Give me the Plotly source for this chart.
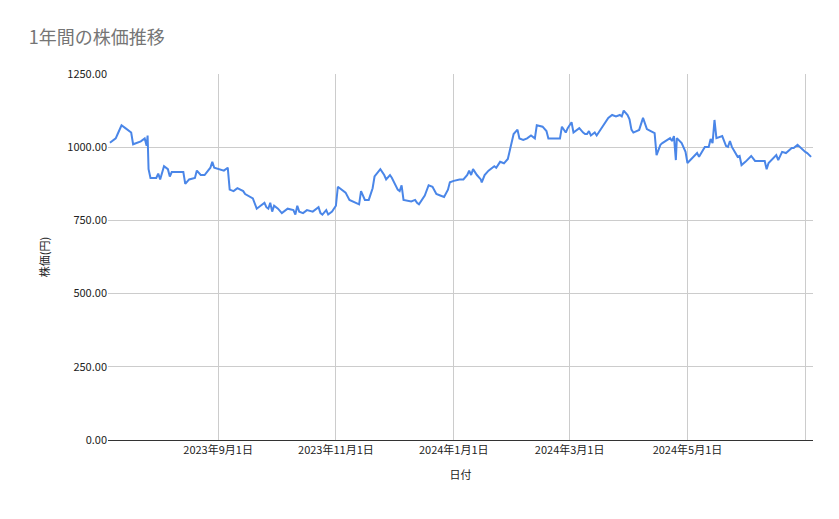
import pandas as pd
import plotly.graph_objects as go

start_date = "2023-07-07"
day_offsets = [0,3,4,6,8,11,12,16,18,19,19.5,20,21,24,25,26,28,30,31,32,35,38,39,41,44,45,47,49,52,53,54,57,59,61,62,64,66,69,70,74,76,78,80,81,82,83,84,85,87,89,92,95,96,97,98,100,102,105,108,109,110,112,113,115,117,118,120,122,124,127,129,130,132,134,136,137,140,142,143,145,146,149,150,151,152,156,158,159,160,163,165,167,169,171,173,175,176,178,181,183,185,186,187,188,190,192,192.5,194,196,199,200,202,204,206,208,209,211,212,214,216,218,220,221,224,226,227,230,233,234,236,237,239,240,243,245,246,247,248,249,251,252,254,256,258,260,262,264,265,266,268,269,270,271,
               274,276,278,280,282,283,285,286,290,291,292,293,293.5,296,298,299,304,305,308,310,311,312,313,314,317,319,320,321,322,325,326,327,329,332,334,339,340,341,345,346,348,350,353,354,356,360,361,363]
prices = [1015,1030,1045,1075,1065,1050,1010,1020,1030,1005,1040,925,895,895,910,890,935,925,900,915,915,915,875,890,895,920,905,905,930,950,930,925,920,930,855,850,860,850,840,825,790,800,810,795,790,810,780,800,790,775,790,785,770,800,780,775,785,780,795,775,770,785,770,780,800,865,855,845,820,810,805,850,820,820,860,900,925,905,890,905,895,855,850,870,820,815,820,810,805,835,870,865,840,835,830,855,880,885,890,890,905,920,905,925,905,890,880,905,920,935,930,950,945,960,1015,1045,1060,1030,1025,1030,1040,1030,1075,1070,1055,1030,1030,1030,1070,1050,1065,1085,1050,1065,1050,1045,1045,1055,1040,1050,1040,1060,1080,1100,1110,1105,1110,1105,1125,1110,1095,1060,1050,
          1059,1100,1062,1055,1048,973,1008,1014,1031,1021,1038,956,1031,1014,984,946,980,967,1001,1001,1028,1014,1093,1031,1038,1004,1001,1021,1001,967,970,939,950,970,953,953,925,946,973,956,984,980,997,997,1008,984,980,967]
tick_dates = ["2023-09-01","2023-11-01","2024-01-01","2024-03-01","2024-05-01","2024-07-01"]
tick_labels = ["2023年9月1日","2023年11月1日","2024年1月1日","2024年3月1日","2024年5月1日",""]
y_ticks = [0,250,500,750,1000,1250]

dates = pd.Timestamp(start_date) + pd.to_timedelta(day_offsets, unit="D")

fig = go.Figure(go.Scatter(x=dates, y=prices, mode="lines",
                           line=dict(color="#4a86e8", width=2), hoverinfo="skip"))
fig.update_layout(
    width=831, height=511, paper_bgcolor="white", plot_bgcolor="white",
    margin=dict(l=100, r=26, t=66, b=79),
    font=dict(family="Noto Sans CJK JP", size=11, color="#222"),
    title=dict(text="1年間の株価推移", x=0.025, y=0.955, xanchor="left",
               font=dict(size=18, color="#757575")),
    showlegend=False,
)
fig.update_xaxes(range=["2023-07-06", "2024-07-05"], tickvals=tick_dates, ticktext=tick_labels,
                 showgrid=True, gridcolor="#cccccc", ticks="", showline=True, linecolor="#333",
                 title=dict(text="日付", font=dict(size=11)), tickfont=dict(size=11))
fig.update_yaxes(range=[0, 1250], tickvals=y_ticks, tickformat=".2f",
                 showgrid=True, gridcolor="#cccccc", zeroline=False, ticks="",
                 title=dict(text="株価(円)", font=dict(size=11)), tickfont=dict(size=11))
fig.write_html("out.html")
